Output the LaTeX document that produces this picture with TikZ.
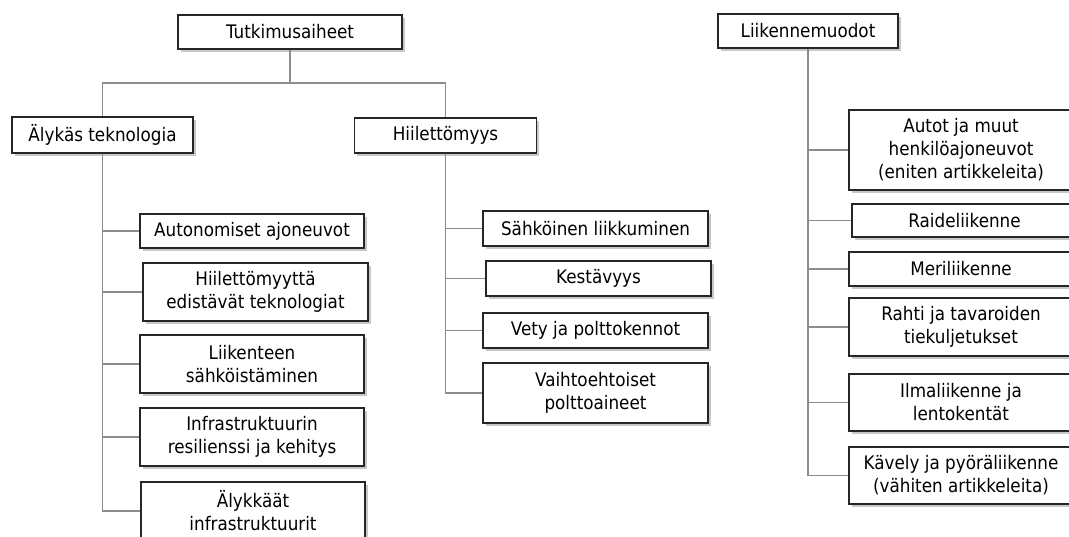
\documentclass[tikz,border=0pt]{standalone}
\usepackage{fontspec}
\setmainfont[FakeStretch=0.9]{DejaVu Sans}
\usetikzlibrary{shadows}
\tikzset{
  bx/.style 2 args={draw=black!85, line width=1.1pt, fill=white, align=center,
    inner sep=0pt, minimum width=#1*0.75pt, minimum height=#2*0.75pt,
    font=\fontsize{14pt}{17.25pt}\selectfont,
    drop shadow={shadow xshift=2pt, shadow yshift=-2pt, opacity=0.3, fill=black!70}},
  conn/.style={draw=black!45, line width=0.8pt}
}
\begin{document}
\begin{tikzpicture}[x=0.75pt,y=-0.75pt]
\useasboundingbox (0,0) rectangle (1069,536);
\clip (0,0) rectangle (1069,536);
\fill[white] (0,0) rectangle (1069,536);

% top level
\node[bx={224}{34}] (tutk) at (290,32) {Tutkimusaiheet};
\node[bx={181}{36}] (alyk) at (102.5,135) {Älykäs teknologia};
\node[bx={182}{35}] (hiil) at (445.5,135.5) {Hiilettömyys};
\node[bx={180}{34}] (liik) at (808,31) {Liikennemuodot};

% Älykäs teknologia children
\node[bx={224}{34}] (auto) at (252,231) {Autonomiset ajoneuvot};
\node[bx={225}{58}] (hiit) at (255.5,292) {Hiilettömyyttä\\edistävät teknologiat};
\node[bx={224}{58}] (sahk) at (252,364) {Liikenteen\\sähköistäminen};
\node[bx={224}{58}] (infr) at (252,437) {Infrastruktuurin\\resilienssi ja kehitys};
\node[bx={224}{58}] (alin) at (253,511) {Älykkäät\\infrastruktuurit};

% Hiilettömyys children
\node[bx={225}{35}] (sali) at (595.5,228.5) {Sähköinen liikkuminen};
\node[bx={225}{35}] (kest) at (598.5,278.5) {Kestävyys};
\node[bx={225}{35}] (vety) at (595.5,330.5) {Vety ja polttokennot};
\node[bx={225}{60}] (vaih) at (595.5,393) {Vaihtoehtoiset\\polttoaineet};

% Liikennemuodot children
\node[bx={224}{80}] (autt) at (961,150) {Autot ja muut\\henkilöajoneuvot\\(eniten artikkeleita)};
\node[bx={225}{33}] (raid) at (964.5,220.5) {Raideliikenne};
\node[bx={224}{34}] (meri) at (961,269) {Meriliikenne};
\node[bx={224}{58}] (raht) at (961,327) {Rahti ja tavaroiden\\tiekuljetukset};
\node[bx={224}{57}] (ilma) at (961,402.5) {Ilmaliikenne ja\\lentokentät};
\node[bx={224}{57}] (kave) at (961,475.5) {Kävely ja pyöräliikenne\\(vähiten artikkeleita)};

% connectors
\coordinate (j) at (290,83);
\draw[conn] (tutk.south) -- (j);
\draw[conn] (j) -| (alyk.north);
\draw[conn] (j) -| (hiil.north);

\foreach \c in {auto,hiit,sahk,infr,alin}
  \draw[conn] (alyk.south) |- (\c.west);
\foreach \c in {sali,kest,vety,vaih}
  \draw[conn] (hiil.south) |- (\c.west);
\foreach \c in {autt,raid,meri,raht,ilma,kave}
  \draw[conn] (liik.south) |- (\c.west);
\end{tikzpicture}
\end{document}
